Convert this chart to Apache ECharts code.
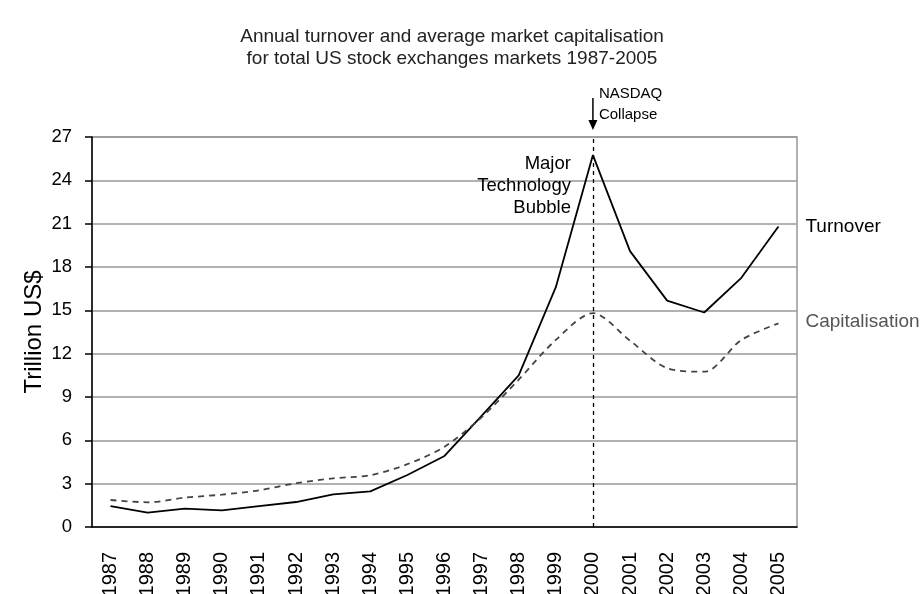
<!DOCTYPE html>
<html>
<head>
<meta charset="utf-8">
<script src="https://cdn.jsdelivr.net/npm/echarts@6/dist/echarts.min.js"></script>
<style>
  html, body { margin: 0; padding: 0; background: #fff; }
  #chart { width: 922px; height: 594px; }
</style>
</head>
<body>
<div id="chart"></div>
<script>
// data (trillion US$)
var years = ['1987','1988','1989','1990','1991','1992','1993','1994','1995','1996',
             '1997','1998','1999','2000','2001','2002','2003','2004','2005'];
var turnover = [1.45, 1.0, 1.27, 1.15, 1.45, 1.73, 2.26, 2.47, 3.6, 4.92,
                7.7, 10.5, 16.6, 25.75, 19.1, 15.67, 14.85, 17.25, 20.8];
var capitalisation = [1.87, 1.71, 2.03, 2.24, 2.54, 3.03, 3.37, 3.58, 4.35, 5.56,
                      7.6, 10.2, 12.95, 14.8, 12.9, 11.0, 10.75, 12.95, 14.1];
var yTicks = [0, 3, 6, 9, 12, 15, 18, 21, 24, 27];

var font = "'Liberation Sans', Arial, sans-serif";

var myChart = echarts.init(document.getElementById('chart'));

var option = {
    animation: false,
    backgroundColor: '#fff',
    title: {
        text: 'Annual turnover and average market capitalisation\nfor total US stock exchanges markets 1987-2005',
        left: 447,
        top: 21,
        textAlign: 'center',
        textStyle: {
            fontFamily: font,
            fontSize: 19,
            fontWeight: 'normal',
            color: '#222',
            lineHeight: 22
        }
    },
    grid: {
        left: 92,
        right: 125,
        top: 137,
        bottom: 67,
        outerBoundsMode: 'none',
        containLabel: false,
        show: true,
        borderColor: '#999',
        borderWidth: 1.5
    },
    xAxis: {
        type: 'category',
        data: years,
        boundaryGap: true,
        axisLine: { lineStyle: { color: '#000', width: 1.5 } },
        axisTick: { interval: 0, length: 8, lineStyle: { color: '#000', width: 1.5 } },
        axisLabel: {
            interval: 0,
            rotate: 90,
            margin: 25,
            fontFamily: font,
            fontSize: 20,
            color: '#000'
        }
    },
    yAxis: {
        type: 'value',
        min: yTicks[0],
        max: yTicks[yTicks.length - 1],
        interval: 3,
        name: 'Trillion US$',
        nameLocation: 'middle',
        nameGap: 46,
        nameMoveOverlap: false,
        nameTextStyle: { fontFamily: font, fontSize: 24, color: '#000' },
        axisLine: { show: true, lineStyle: { color: '#000', width: 1.5 } },
        axisTick: { show: true, length: 7, lineStyle: { color: '#000', width: 1.5 } },
        axisLabel: { fontFamily: font, fontSize: 18.5, color: '#000', margin: 20 },
        splitLine: { lineStyle: { color: '#999', width: 1.5 } }
    },
    series: [
        {
            name: 'Turnover',
            type: 'line',
            data: turnover,
            symbol: 'none',
            lineStyle: { color: '#000', width: 1.8 },
            endLabel: {
                show: true,
                formatter: 'Turnover',
                distance: 27,
                fontFamily: font,
                fontSize: 19,
                color: '#000'
            },
            markLine: {
                silent: true,
                symbol: 'none',
                label: { show: false },
                lineStyle: { color: '#000', type: [4, 4], width: 1.3 },
                data: [{ xAxis: '2000' }]
            }
        },
        {
            name: 'Capitalisation',
            type: 'line',
            data: capitalisation,
            symbol: 'none',
            smooth: 0.3,
            lineStyle: { color: '#444', width: 1.8, type: [6, 5] },
            endLabel: {
                show: true,
                formatter: 'Capitalisation',
                distance: 27,
                offset: [0, -2],
                fontFamily: font,
                fontSize: 19,
                color: '#555'
            }
        }
    ]
};

myChart.setOption(option);

// annotations placed relative to the 2000 category
var peak = myChart.convertToPixel({ seriesIndex: 0 }, ['2000', turnover[13]]);
var x2000 = peak[0];
var gridTop = myChart.convertToPixel({ yAxisIndex: 0 }, 27);

myChart.setOption({
    graphic: [
        {
            type: 'line',
            shape: { x1: x2000, y1: 98, x2: x2000, y2: gridTop - 12 },
            style: { stroke: '#000', lineWidth: 1.5 }
        },
        {
            type: 'polygon',
            shape: { points: [[x2000 - 4.5, gridTop - 17], [x2000 + 4.5, gridTop - 17], [x2000, gridTop - 7]] },
            style: { fill: '#000' }
        },
        {
            type: 'text',
            x: x2000 + 6,
            y: 83,
            style: {
                text: 'NASDAQ\nCollapse',
                font: '15px ' + font,
                fill: '#000',
                verticalAlign: 'top',
                lineHeight: 21
            }
        },
        {
            type: 'text',
            x: x2000 - 22,
            y: peak[1] - 2,
            style: {
                text: 'Major\nTechnology\nBubble',
                font: '18.5px ' + font,
                fill: '#000',
                align: 'right',
                verticalAlign: 'top',
                lineHeight: 22
            }
        }
    ]
});
</script>
</body>
</html>
